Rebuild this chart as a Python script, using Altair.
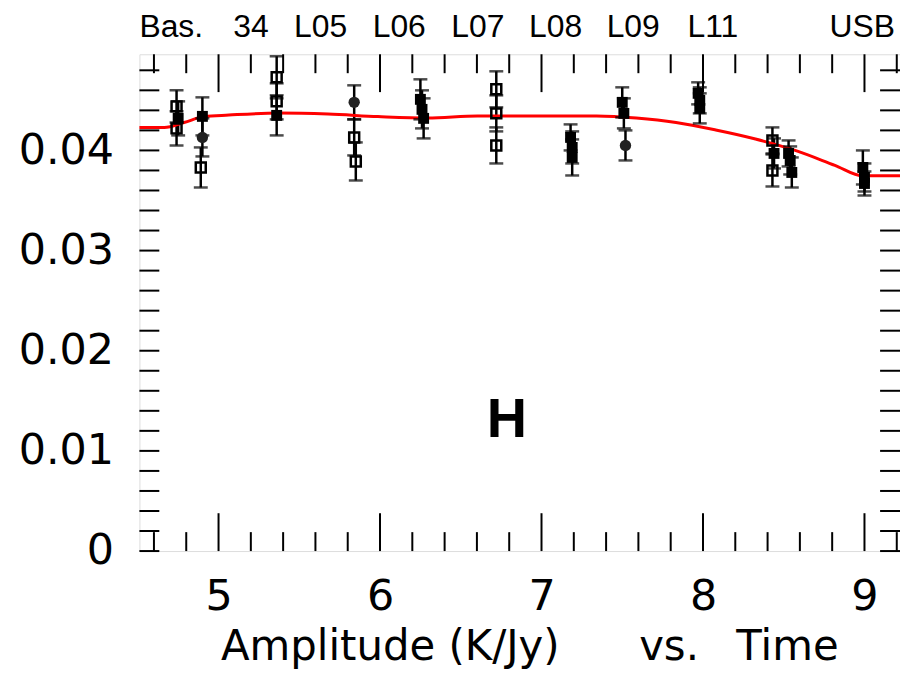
import altair as alt
import pandas as pd

# ---------------- data ----------------
point_x = [4.74, 4.75, 4.74, 4.90, 4.90, 4.89, 5.36, 5.36, 5.36,
           5.84, 5.84, 5.85, 6.25, 6.26, 6.27, 6.72, 6.72, 6.72,
           7.18, 7.19, 7.19, 7.50, 7.51, 7.52, 7.97, 7.98, 7.98,
           8.43, 8.44, 8.43, 8.53, 8.54, 8.55, 8.99, 9.00, 9.00]
point_y = [0.0444, 0.0432, 0.0422, 0.0434, 0.0413, 0.0383, 0.0473, 0.0449, 0.0435,
           0.0448, 0.0413, 0.0389, 0.0451, 0.0441, 0.0432, 0.0461, 0.0437, 0.0405,
           0.0413, 0.0403, 0.0393, 0.0448, 0.0437, 0.0405, 0.0457, 0.0450, 0.0442,
           0.0410, 0.0397, 0.0380, 0.0397, 0.0390, 0.0378, 0.0383, 0.0373, 0.0367]
point_err = [0.0016, 0.0017, 0.0017, 0.0019, 0.0019, 0.0020, 0.0021, 0.0018, 0.0020,
             0.0017, 0.0018, 0.0019, 0.0020, 0.0019, 0.0020, 0.0018, 0.0018, 0.0018,
             0.0013, 0.0016, 0.0018, 0.0015, 0.0015, 0.0015, 0.0011, 0.0013, 0.0015,
             0.0013, 0.0015, 0.0016, 0.0013, 0.0014, 0.0015, 0.0017, 0.0014, 0.0012]
point_kind = ["open", "filled", "open", "filled", "circle", "open", "open", "open", "filled",
              "circle", "open", "open", "filled", "filled", "filled", "open", "open", "open",
              "filled", "filled", "filled", "filled", "filled", "circle", "filled", "filled", "filled",
              "open", "filled", "open", "filled", "filled", "filled", "filled", "filled", "filled"]

fit_x = [4.51, 4.664, 4.787, 4.91, 5.064, 5.372, 5.678, 5.987, 6.295, 6.603,
         6.91, 7.341, 7.587, 7.833, 8.079, 8.325, 8.571, 8.817, 8.99, 9.22]
fit_y = [0.04229, 0.04229, 0.04279, 0.04338, 0.04353, 0.04373, 0.04363, 0.04338, 0.04323, 0.04343,
         0.04343, 0.04343, 0.04323, 0.04279, 0.04204, 0.04114, 0.04000, 0.03851, 0.03746, 0.03746]

x_major = [5, 6, 7, 8, 9]
x_minor = [4.6, 4.8, 5.2, 5.4, 5.6, 5.8, 6.2, 6.4, 6.6, 6.8, 7.2, 7.4, 7.6, 7.8,
           8.2, 8.4, 8.6, 8.8, 9.2]
y_major = [0, 0.01, 0.02, 0.03, 0.04]
y_minor = [0.002, 0.004, 0.006, 0.008, 0.012, 0.014, 0.016, 0.018, 0.022, 0.024,
           0.026, 0.028, 0.032, 0.034, 0.036, 0.038, 0.042, 0.044, 0.046, 0.048]

top_labels = ["Bas.", "34", "L05", "L06", "L07", "L08", "L09", "L11", "USB"]
top_label_px = [32, 112, 182, 261, 340, 418, 496, 576, 726]
x_title_parts = ["Amplitude (K/Jy)", "vs.", "Time"]
x_title_px = [252, 532, 651]
panel_letter = "H"

# ---------------- layout ----------------
W, H = 764, 499
XD = [4.51, 9.22]
YD = [0, 0.0496]
FONT = "DejaVu Sans"

pts = pd.DataFrame({"x": point_x, "y": point_y, "err": point_err, "kind": point_kind})
pts["lo"] = pts["y"] - pts["err"]
pts["hi"] = pts["y"] + pts["err"]
fit = pd.DataFrame({"x": fit_x, "y": fit_y})

xs = alt.Scale(domain=XD, nice=False, zero=False)
ys = alt.Scale(domain=YD, nice=False, zero=False)

x_axis = alt.Axis(values=x_major, format="d", ticks=False, domain=False, grid=False,
                  labelFont=FONT, labelFontSize=43, labelColor="black",
                  labelPadding=25, title=None)
y_axis = alt.Axis(values=y_major, format=".2~f", ticks=False, domain=False, grid=False,
                  labelFont=FONT, labelFontSize=43, labelColor="black",
                  labelPadding=26, title=None)


def X(f):
    return alt.X(f, scale=xs, axis=x_axis)


def Y(f):
    return alt.Y(f, scale=ys, axis=y_axis)


base = alt.Chart(pts)

bars = base.mark_rule(color="black", strokeWidth=2.5).encode(
    x=X("x:Q"), y=Y("lo:Q"), y2="hi:Q")
cap_lo = base.mark_tick(color="black", orient="horizontal", size=14, thickness=2.5).encode(
    x=X("x:Q"), y=Y("lo:Q"))
cap_hi = base.mark_tick(color="black", orient="horizontal", size=14, thickness=2.5).encode(
    x=X("x:Q"), y=Y("hi:Q"))

open_sq = base.transform_filter(alt.datum.kind == "open").mark_point(
    shape="square", filled=False, color="black", strokeWidth=2.5, size=100, opacity=1).encode(
    x=X("x:Q"), y=Y("y:Q"))
filled_sq = base.transform_filter(alt.datum.kind == "filled").mark_point(
    shape="square", filled=True, color="black", size=120, opacity=1).encode(
    x=X("x:Q"), y=Y("y:Q"))
filled_ci = base.transform_filter(alt.datum.kind == "circle").mark_point(
    shape="circle", filled=True, color="#222222", size=130, opacity=1).encode(
    x=X("x:Q"), y=Y("y:Q"))

line = alt.Chart(fit).mark_line(color="#ff0000", strokeWidth=3, interpolate="monotone").encode(
    x=X("x:Q"), y=Y("y:Q"))


def xticks(vals, length):
    d = pd.DataFrame({"v": vals})
    bot = alt.Chart(d).mark_rule(color="black", strokeWidth=2).encode(
        x=X("v:Q"), y=alt.value(H), y2=alt.value(H - length))
    top = alt.Chart(d).mark_rule(color="black", strokeWidth=2).encode(
        x=X("v:Q"), y=alt.value(0), y2=alt.value(length))
    return [bot, top]


def yticks(vals, length):
    d = pd.DataFrame({"v": vals})
    left = alt.Chart(d).mark_rule(color="black", strokeWidth=2).encode(
        y=Y("v:Q"), x=alt.value(0), x2=alt.value(length))
    right = alt.Chart(d).mark_rule(color="black", strokeWidth=2).encode(
        y=Y("v:Q"), x=alt.value(W), x2=alt.value(W - length))
    return [left, right]


tick_layers = xticks(x_major, 38) + xticks(x_minor, 19) + yticks(y_major, 20) + yticks(y_minor, 20)

one = pd.DataFrame({"a": [0]})
texts = []
for lab, px in zip(top_labels, top_label_px):
    texts.append(alt.Chart(one).mark_text(font="Liberation Sans", fontSize=32, color="black",
                                          align="center", baseline="middle").encode(
        x=alt.value(px), y=alt.value(-27), text=alt.value(lab)))
for lab, px in zip(x_title_parts, x_title_px):
    texts.append(alt.Chart(one).mark_text(font=FONT, fontSize=42, color="black",
                                          align="center", baseline="middle").encode(
        x=alt.value(px), y=alt.value(96 + H), text=alt.value(lab)))
texts.append(alt.Chart(one).mark_text(font="Liberation Sans", fontSize=56, fontWeight="bold",
                                      color="black", align="center", baseline="middle").encode(
    x=alt.value(369), y=alt.value(367), text=alt.value(panel_letter)))

chart = alt.layer(bars, *tick_layers, line, cap_lo, cap_hi, open_sq, filled_sq, filled_ci,
                  *texts).properties(
    width=W, height=H,
    autosize=alt.AutoSizeParams(type="none"),
    padding={"left": 132, "top": 45, "right": 0, "bottom": 118},
).configure_view(stroke="black", strokeWidth=2.5).configure(background="white")

chart.save("out.html", embed_options={"renderer": "svg", "actions": False})
